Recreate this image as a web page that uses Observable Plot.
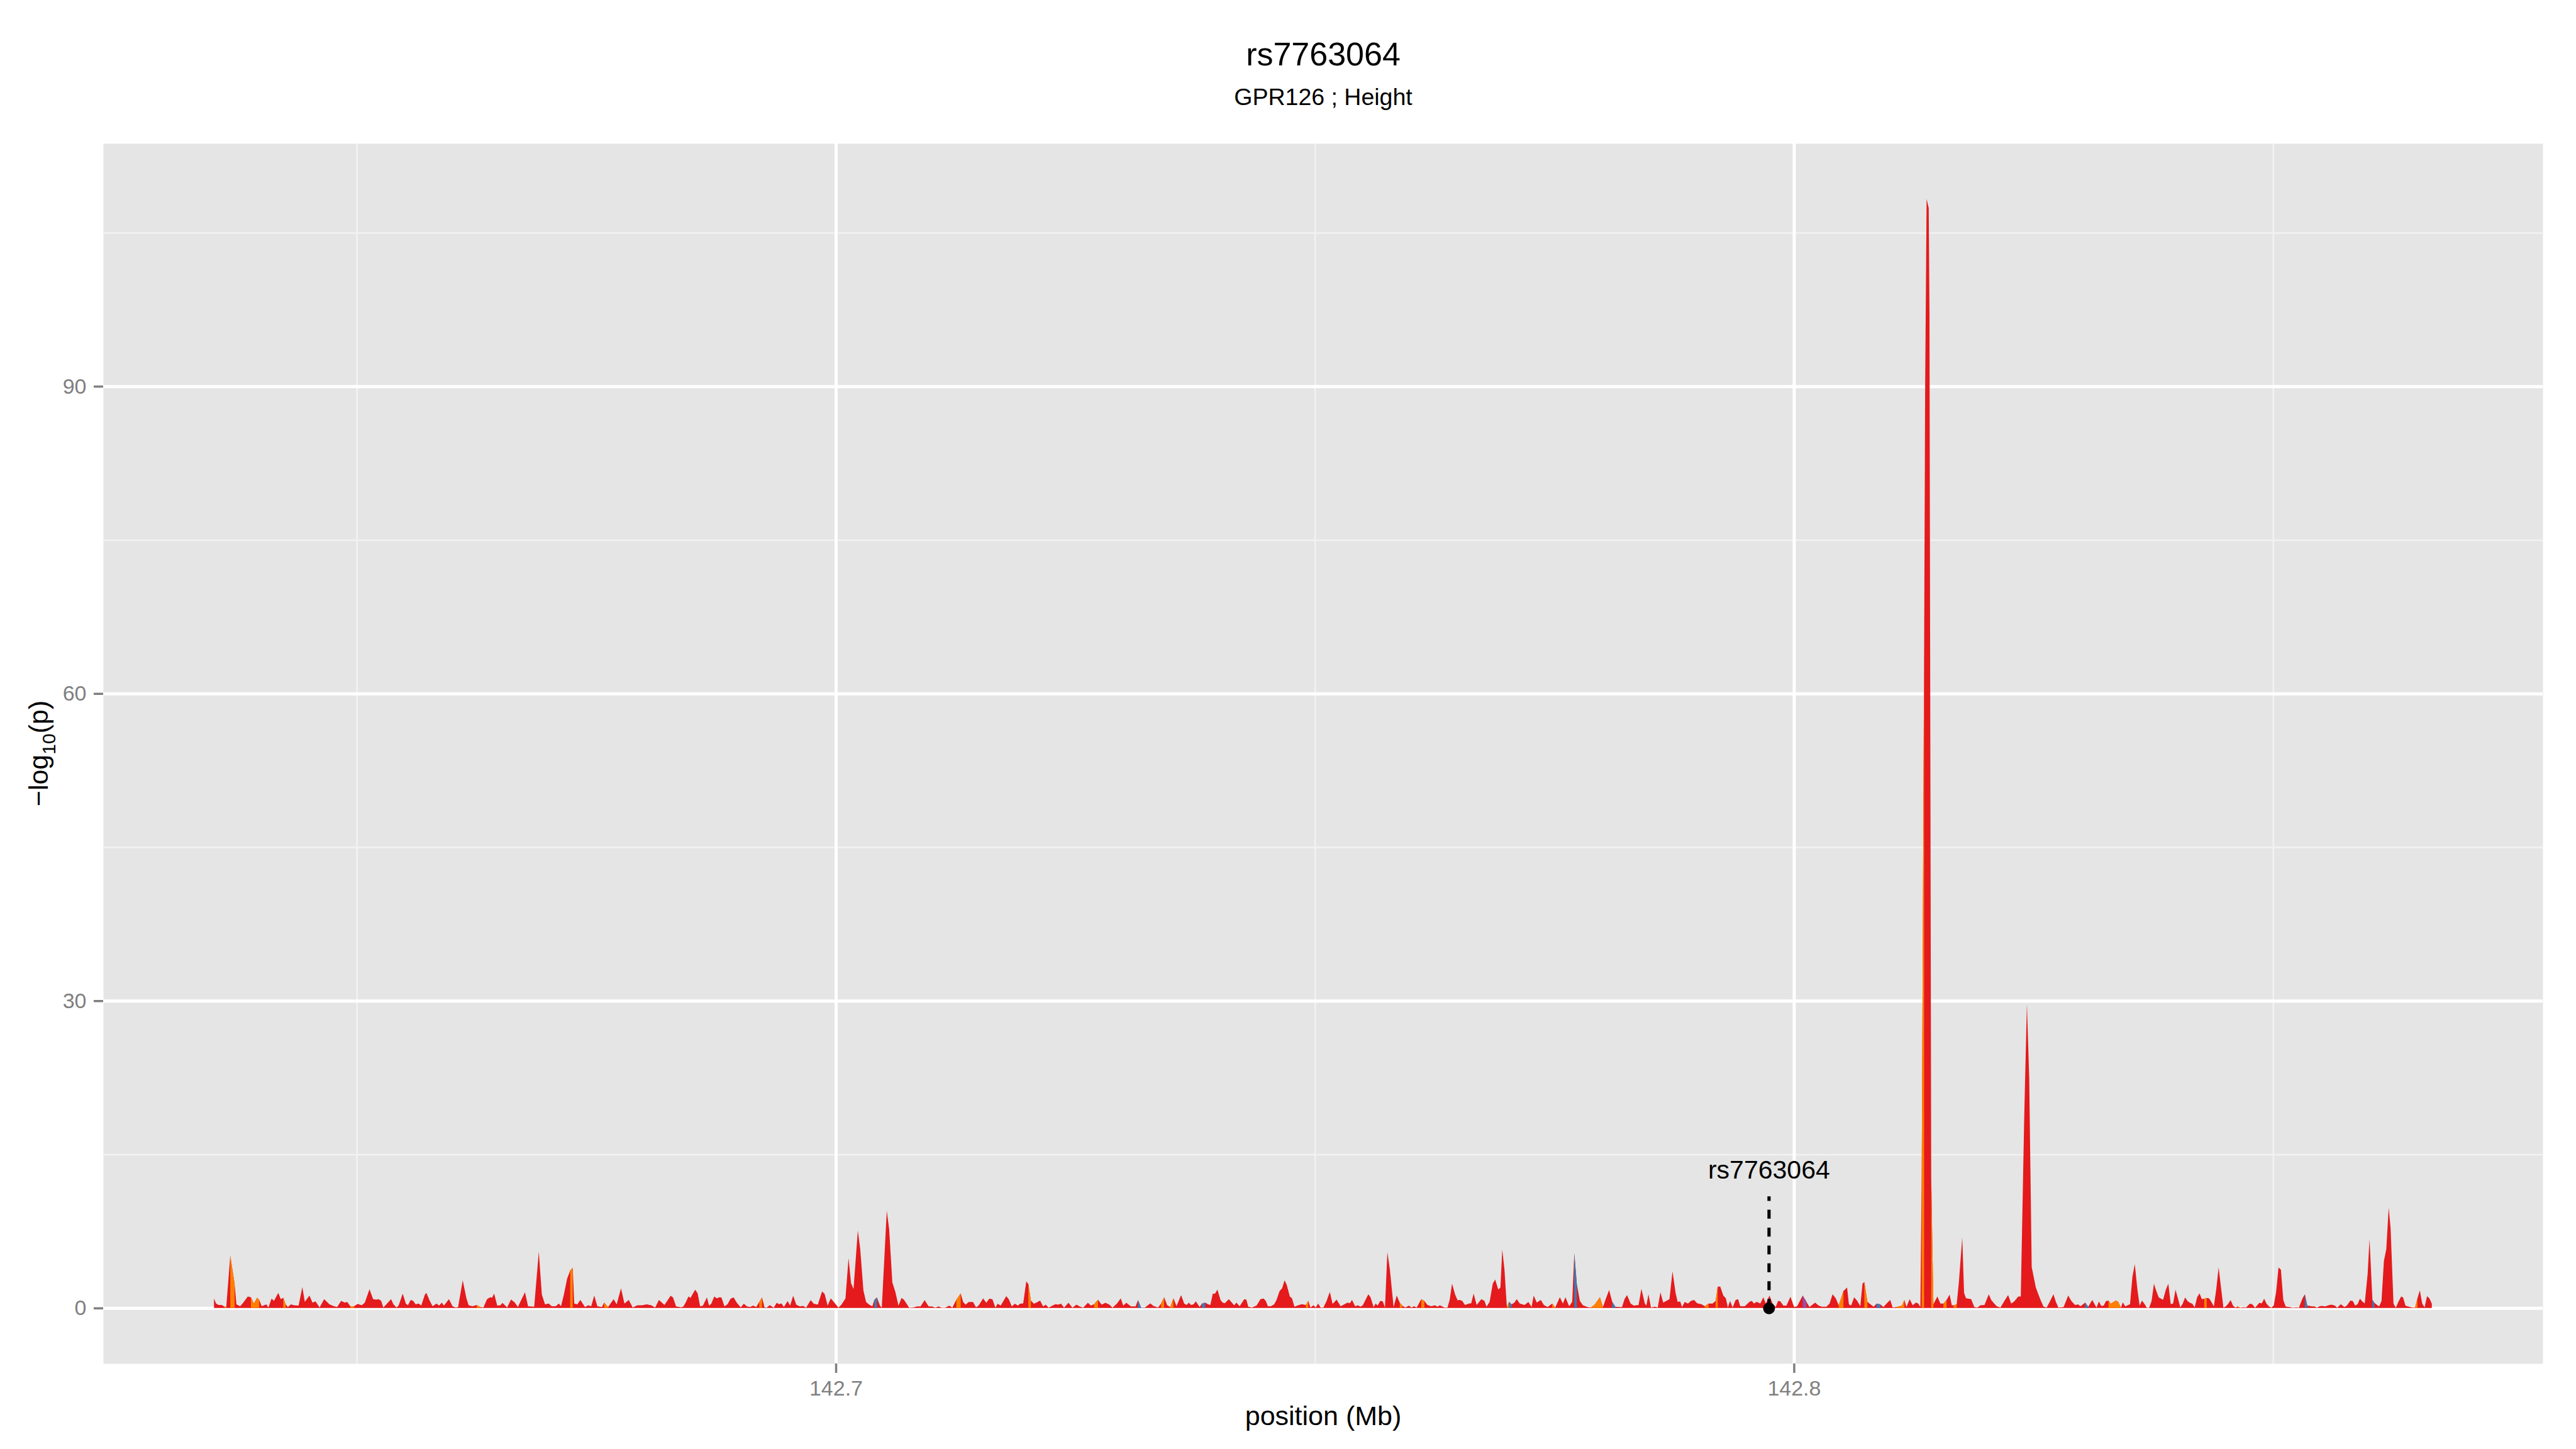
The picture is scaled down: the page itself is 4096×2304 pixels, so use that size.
<!DOCTYPE html>
<html><head><meta charset="utf-8">
<script src="https://cdn.jsdelivr.net/npm/d3@7"></script>
<script src="https://cdn.jsdelivr.net/npm/@observablehq/plot@0.6"></script>
<style>html,body{margin:0;padding:0;background:#fff}svg{display:block}</style>
</head><body><div id="chart"></div>
<script>
// SNP position (Mb) and -log10(p)
const snps = [
[142.63510,0.92],[142.63532,0.44],[142.63558,0.30],[142.63590,0.30],[142.63616,0.16],[142.63638,0.10],[142.63680,5.10],[142.63725,2.36],[142.63744,0.35],[142.63783,0.17],
[142.63808,0.44],[142.63863,1.13],[142.63895,1.05],[142.63927,0.44],[142.63960,1.00],[142.63982,0.79],[142.64008,0.17],[142.64056,0.35],[142.64078,0.05],[142.64111,0.92],
[142.64136,0.70],[142.64181,1.48],[142.64207,0.87],[142.64233,1.00],[142.64258,0.35],[142.64281,0.10],[142.64313,0.35],[142.64345,0.26],[142.64393,0.23],[142.64432,2.04],
[142.64458,0.61],[142.64506,1.22],[142.64538,0.52],[142.64570,0.65],[142.64612,0.05],[142.64660,0.87],[142.64715,0.35],[142.64763,0.17],[142.64795,0.10],[142.64837,0.70],
[142.64875,0.52],[142.64901,0.58],[142.64933,0.17],[142.64972,0.17],[142.65010,0.40],[142.65052,0.26],[142.65084,0.52],[142.65133,1.83],[142.65171,0.87],[142.65203,0.82],
[142.65229,0.87],[142.65255,0.70],[142.65277,0.05],[142.65309,0.35],[142.65358,0.87],[142.65383,0.35],[142.65415,0.05],[142.65438,0.26],[142.65480,1.40],[142.65512,0.44],
[142.65534,0.26],[142.65563,0.79],[142.65589,0.70],[142.65615,0.35],[142.65647,0.44],[142.65673,0.23],[142.65711,1.31],[142.65727,1.48],[142.65759,0.75],[142.65791,0.17],
[142.65833,0.44],[142.65859,0.23],[142.65888,0.52],[142.65910,0.23],[142.65962,0.87],[142.66000,0.17],[142.66033,0.05],[142.66058,0.10],[142.66106,2.70],[142.66145,0.92],
[142.66168,0.26],[142.66209,0.17],[142.66251,0.30],[142.66290,0.10],[142.66322,0.05],[142.66360,0.87],[142.66392,1.05],[142.66412,1.00],[142.66434,1.40],[142.66466,0.23],
[142.66499,0.26],[142.66521,0.49],[142.66547,0.26],[142.66569,0.05],[142.66611,0.84],[142.66650,0.52],[142.66682,0.10],[142.66707,0.61],[142.66756,1.54],[142.66788,0.17],
[142.66852,0.12],[142.66900,5.50],[142.66932,1.31],[142.66965,0.35],[142.67003,0.44],[142.67035,0.17],[142.67077,0.17],[142.67109,0.44],[142.67132,0.17],[142.67164,1.40],
[142.67196,2.88],[142.67228,3.66],[142.67254,3.93],[142.67270,0.44],[142.67302,0.35],[142.67334,0.79],[142.67382,0.10],[142.67415,0.26],[142.67447,0.17],[142.67479,1.22],
[142.67511,0.17],[142.67559,0.10],[142.67582,0.52],[142.67623,0.10],[142.67681,0.87],[142.67713,0.35],[142.67758,1.92],[142.67794,0.44],[142.67839,0.79],[142.67880,0.05],
[142.67929,0.26],[142.67977,0.26],[142.68025,0.35],[142.68073,0.26],[142.68115,0.05],[142.68154,0.79],[142.68212,0.30],
[142.68276,1.20],[142.68301,1.03],[142.68333,0.16],[142.68388,0.07],[142.68410,0.16],[142.68436,0.59],[142.68462,1.12],[142.68484,0.98],[142.68507,1.38],[142.68533,1.78],
[142.68558,1.43],[142.68584,0.16],[142.68613,0.24],[142.68655,1.03],[142.68677,0.24],[142.68700,0.42],[142.68732,1.12],[142.68758,0.94],[142.68783,1.05],[142.68806,1.03],
[142.68838,0.16],[142.68870,0.38],[142.68902,0.91],[142.68934,1.03],[142.68967,0.51],[142.69008,0.07],[142.69040,0.42],[142.69073,0.16],[142.69105,0.10],[142.69137,0.24],
[142.69169,0.10],[142.69201,0.59],[142.69230,1.03],[142.69256,0.07],[142.69278,0.03],[142.69310,0.28],[142.69352,0.03],[142.69384,0.51],[142.69407,0.38],[142.69433,0.45],
[142.69458,0.10],[142.69497,0.68],[142.69523,0.24],[142.69555,1.20],[142.69587,0.33],[142.69625,0.16],[142.69658,0.21],[142.69690,0.03],[142.69738,0.77],[142.69770,0.42],
[142.69812,0.33],[142.69857,1.61],[142.69883,1.38],[142.69915,0.24],[142.69947,0.94],[142.69995,0.42],[142.70027,0.03],[142.70059,0.33],[142.70101,0.94],[142.70133,4.87],
[142.70159,2.43],[142.70185,1.85],[142.70230,7.57],[142.70255,5.74],[142.70288,1.73],[142.70316,0.59],[142.70349,0.33],[142.70381,0.16],[142.70403,0.80],[142.70429,1.03],
[142.70461,0.24],[142.70480,0.03],[142.70532,9.49],[142.70557,7.66],[142.70590,2.51],[142.70622,1.55],[142.70654,0.24],[142.70686,0.98],[142.70712,0.80],[142.70766,0.03],
[142.70815,0.07],[142.70847,0.16],[142.70885,0.16],[142.70927,0.77],[142.70969,0.16],[142.71001,0.16],[142.71040,0.03],[142.71072,0.16],[142.71104,0.03],[142.71142,0.03],
[142.71184,0.24],[142.71216,0.03],[142.71258,0.80],[142.71303,1.43],[142.71329,0.59],[142.71355,0.33],[142.71387,0.59],[142.71432,0.59],[142.71464,0.07],[142.71490,0.24],
[142.71538,0.94],[142.71570,0.51],[142.71602,0.91],[142.71634,0.86],[142.71666,0.03],[142.71689,0.42],[142.71721,0.24],[142.71779,1.15],[142.71805,0.86],[142.71837,0.16],
[142.71869,0.42],[142.71901,0.24],[142.71923,0.42],[142.71956,0.45],[142.71988,2.60],[142.72010,2.34],[142.72036,0.73],[142.72068,0.42],[142.72100,0.56],[142.72132,0.73],
[142.72164,0.16],[142.72190,0.33],[142.72222,0.03],[142.72261,0.24],[142.72293,0.38],[142.72319,0.33],[142.72351,0.42],[142.72383,0.03],[142.72428,0.51],[142.72470,0.03],
[142.72512,0.33],[142.72544,0.16],[142.72582,0.03],[142.72631,0.51],[142.72663,0.24],[142.72695,0.38],[142.72737,0.80],[142.72775,0.33],[142.72814,0.51],[142.72856,0.33],
[142.72888,0.03],[142.72936,0.45],[142.72974,0.94],[142.73000,0.24],[142.73032,0.51],[142.73081,0.16],[142.73129,0.16],[142.73154,0.77],[142.73187,0.03],[142.73225,0.03],
[142.73283,0.45],
[142.73315,0.20],[142.73363,0.05],[142.73395,0.44],[142.73427,1.05],[142.73459,0.26],[142.73491,0.09],[142.73524,0.96],[142.73556,0.17],[142.73604,1.27],[142.73636,0.44],
[142.73662,0.30],[142.73684,0.52],[142.73707,0.30],[142.73733,0.35],[142.73758,0.65],[142.73797,0.09],[142.73822,0.44],[142.73855,0.52],[142.73887,0.35],[142.73909,0.30],
[142.73935,1.40],[142.73958,1.40],[142.73983,1.80],[142.74015,0.79],[142.74038,0.52],[142.74060,0.47],[142.74102,0.87],[142.74134,0.52],[142.74157,0.26],[142.74182,0.52],
[142.74215,0.17],[142.74263,0.87],[142.74285,0.82],[142.74305,0.12],[142.74343,0.05],[142.74391,0.23],[142.74433,0.87],[142.74465,0.92],[142.74488,0.70],[142.74510,0.17],
[142.74542,0.17],[142.74575,0.35],[142.74600,0.79],[142.74632,1.66],[142.74658,1.92],[142.74684,2.70],[142.74706,2.27],[142.74739,1.13],[142.74761,0.96],[142.74787,0.12],
[142.74825,0.26],[142.74864,0.38],[142.74906,0.30],[142.74931,0.70],[142.74954,0.05],[142.74986,0.26],[142.75009,0.05],[142.75034,0.44],[142.75060,0.05],[142.75089,0.05],
[142.75121,0.65],[142.75156,1.57],[142.75185,0.40],[142.75227,0.82],[142.75269,0.17],[142.75307,0.35],[142.75340,0.52],[142.75365,0.47],[142.75388,0.79],[142.75420,0.17],
[142.75452,0.26],[142.75475,0.12],[142.75500,0.26],[142.75558,1.34],[142.75581,1.05],[142.75613,0.09],[142.75635,0.44],[142.75655,0.23],[142.75683,0.70],[142.75709,0.65],
[142.75732,0.05],[142.75757,5.46],[142.75783,3.75],[142.75822,0.09],[142.75854,1.22],[142.75886,0.52],[142.75912,0.23],[142.75944,0.05],[142.75982,0.23],[142.76008,0.05],
[142.76034,0.17],[142.76063,0.05],[142.76111,0.87],[142.76143,0.70],[142.76175,0.30],[142.76214,0.17],[142.76256,0.26],[142.76278,0.12],[142.76304,0.26],[142.76352,0.05],
[142.76384,0.05],[142.76407,0.79],[142.76432,2.39],[142.76464,1.31],[142.76490,0.75],[142.76513,0.79],[142.76538,0.70],[142.76567,0.30],[142.76609,0.44],[142.76632,0.47],
[142.76657,1.40],[142.76689,0.30],[142.76738,0.87],[142.76770,0.70],[142.76792,0.12],[142.76824,0.61],[142.76857,2.39],[142.76882,2.79],[142.76914,1.80],[142.76937,2.00],
[142.76956,5.72],[142.76979,3.75],[142.77004,0.09],[142.77027,0.61],[142.77053,0.35],[142.77082,0.52],[142.77107,0.87],[142.77139,0.44],[142.77188,0.30],[142.77229,0.58],
[142.77262,0.09],[142.77284,1.22],[142.77316,0.52],[142.77358,0.79],[142.77390,0.30],[142.77429,0.09],[142.77477,0.44],[142.77509,0.05],[142.77557,1.05],[142.77589,0.44],
[142.77615,1.05],[142.77654,0.17],[142.77686,0.61],[142.77708,5.34],[142.77734,2.36],[142.77766,0.70],[142.77798,0.26],[142.77846,0.09],[142.77879,0.05],[142.77917,0.30],
[142.77975,1.05],[142.78007,0.09],[142.78039,0.96],[142.78071,1.75],[142.78104,0.61],[142.78136,0.12],[142.78184,0.09],[142.78206,0.09],[142.78232,0.87],[142.78258,1.27],
[142.78296,0.44],[142.78329,0.23],
[142.78379,0.30],[142.78408,1.87],[142.78444,0.44],[142.78460,0.23],[142.78482,1.34],[142.78508,0.05],[142.78550,0.12],[142.78579,0.05],[142.78607,1.52],[142.78636,0.52],
[142.78701,0.87],[142.78733,3.58],[142.78765,1.48],[142.78787,0.58],[142.78813,0.65],[142.78832,0.09],[142.78861,0.58],[142.78894,0.44],[142.78926,0.70],[142.78958,0.79],
[142.78990,0.47],[142.79038,0.35],[142.79070,0.17],[142.79109,0.44],[142.79151,0.44],[142.79183,0.70],[142.79205,2.09],[142.79231,2.09],[142.79263,1.22],[142.79289,0.96],
[142.79311,0.05],[142.79334,0.70],[142.79360,0.05],[142.79392,0.79],[142.79417,0.87],[142.79440,0.17],[142.79488,0.17],[142.79536,0.61],[142.79559,0.70],[142.79585,0.44],
[142.79610,0.61],[142.79649,0.44],[142.79681,1.05],[142.79707,0.44],[142.79745,1.22],[142.79777,0.44],[142.79810,0.09],[142.79835,0.70],[142.79858,0.65],[142.79890,0.23],
[142.79922,0.23],[142.79964,1.10],[142.80002,0.09],[142.80034,0.17],[142.80092,1.22],[142.80131,0.61],[142.80163,0.09],[142.80221,0.52],[142.80259,0.23],[142.80292,0.12],
[142.80340,0.12],[142.80372,0.44],[142.80404,1.34],[142.80436,0.96],[142.80468,0.26],[142.80517,1.66],[142.80555,2.00],[142.80574,0.35],[142.80597,0.23],[142.80629,1.05],
[142.80661,0.70],[142.80693,0.17],[142.80716,2.39],[142.80735,2.53],[142.80767,0.61],[142.80799,0.35],[142.80832,0.12],[142.80864,0.44],[142.80902,0.35],[142.80934,0.09],
[142.80967,0.44],[142.81005,0.79],[142.81031,0.05],[142.81069,0.09],[142.81102,0.17],[142.81127,0.23],[142.81153,0.79],[142.81175,0.09],[142.81208,0.87],[142.81240,0.26],
[142.81272,0.52],[142.81298,0.44],[142.81320,0.09],[142.81334,13.0],[142.81359,64.0],[142.81370,90.0],[142.81385,108.3],[142.81407,107.4],[142.81415,97.0],[142.81433,12.8],
[142.81456,0.35],[142.81497,1.13],[142.81529,0.44],[142.81561,0.44],[142.81593,0.79],[142.81625,1.31],[142.81648,0.26],[142.81667,0.26],[142.81699,0.35],[142.81722,2.53],
[142.81757,6.89],[142.81776,1.48],[142.81796,0.96],[142.81850,0.87],[142.81883,0.09],[142.81915,0.05],[142.81947,0.26],[142.81989,0.30],[142.82034,1.34],[142.82059,0.79],
[142.82091,0.44],[142.82117,0.17],[142.82156,0.05],[142.82197,0.70],[142.82236,1.26],[142.82268,0.44],[142.82300,0.65],[142.82342,1.13],[142.82368,1.13],[142.82404,18.7],
[142.82432,29.7],[142.82456,22.4],[142.82482,4.0],[142.82525,2.0],[142.82574,0.79],[142.82606,0.12],[142.82638,0.05],[142.82670,0.61],[142.82709,1.34],[142.82734,0.61],
[142.82760,0.05],[142.82815,0.09],[142.82863,1.22],[142.82895,0.70],[142.82934,0.30],[142.82966,0.35],[142.82991,0.17],[142.83040,0.52],[142.83072,0.12],[142.83114,0.79],
[142.83158,0.03],[142.83183,0.63],[142.83208,0.21],[142.83233,0.24],[142.83258,0.68],[142.83283,0.73],[142.83308,0.42],[142.83358,0.73],[142.83383,0.63],[142.83413,0.03],
[142.83433,0.56],[142.83458,0.16],[142.83508,0.38],[142.83533,3.04],[142.83558,4.29],[142.83583,1.99],[142.83608,0.24],[142.83633,0.73],[142.83658,0.42],[142.83683,0.03],
[142.83708,0.03],[142.83733,0.68],[142.83758,2.37],[142.83783,1.64],[142.83808,1.03],[142.83853,0.80],[142.83883,1.82],[142.83908,2.37],[142.83933,0.38],[142.83958,0.45],
[142.83983,1.78],[142.84008,0.94],[142.84033,0.07],[142.84058,0.42],[142.84083,1.03],[142.84108,0.68],[142.84133,0.51],[142.84158,0.42],[142.84183,0.07],[142.84208,1.03],
[142.84233,1.43],[142.84258,0.86],[142.84283,0.91],[142.84308,0.98],[142.84333,0.94],[142.84358,0.59],[142.84383,0.16],[142.84408,1.82],[142.84433,3.96],[142.84458,1.99],
[142.84483,0.03],[142.84508,0.16],[142.84533,0.42],[142.84558,0.77],[142.84583,0.24],[142.84608,0.03],[142.84633,0.16],[142.84658,0.03],[142.84683,0.07],[142.84721,0.07],
[142.84758,0.42],[142.84783,0.38],[142.84813,0.03],[142.84833,0.24],[142.84858,0.51],[142.84883,0.45],[142.84908,0.91],[142.84933,0.42],[142.84958,0.16],[142.84983,0.03],
[142.85008,0.24],[142.85033,1.55],[142.85058,3.96],[142.85083,3.73],[142.85108,0.77],[142.85133,0.14],[142.85171,0.10],[142.85208,0.03],[142.85246,0.07],[142.85271,0.03],
[142.85308,0.94],[142.85333,1.34],[142.85358,0.24],[142.85383,0.21],[142.85408,0.16],[142.85433,0.16],[142.85458,0.03],[142.85483,0.16],[142.85508,0.21],[142.85546,0.16],
[142.85583,0.28],[142.85613,0.33],[142.85646,0.24],[142.85671,0.03],[142.85708,0.38],[142.85746,0.10],[142.85771,0.24],[142.85808,0.73],[142.85833,0.68],[142.85858,0.24],
[142.85883,0.38],[142.85908,0.91],[142.85933,0.63],[142.85958,0.45],[142.85988,3.30],[142.86008,6.74],[142.86038,0.80],[142.86058,0.51],[142.86083,0.33],[142.86108,0.16],
[142.86133,0.68],[142.86158,4.60],[142.86183,5.74],[142.86208,9.81],[142.86228,7.75],[142.86258,0.42],[142.86283,0.03],[142.86308,0.59],[142.86338,1.12],[142.86358,1.03],
[142.86383,0.24],[142.86408,0.16],[142.86446,0.07],[142.86483,0.03],[142.86508,0.94],[142.86533,1.73],[142.86558,0.42],[142.86583,0.07],[142.86608,1.15],[142.86633,0.94],
[142.86658,0.42]
];

// intervals (Mb) drawn in the other LD colours
const orangeBands = [
[142.63616,142.63638],[142.63680,142.63725],[142.63895,142.63982],[142.64233,142.64258],[142.64933,142.64972],[142.66251,142.66290],[142.67228,142.67254],[142.67582,142.67623],
[142.69201,142.69230],[142.71258,142.71303],[142.72010,142.72036],[142.72695,142.72737],
[142.73395,142.73427],[142.73491,142.73524],[142.74906,142.74931],[142.75886,142.75912],[142.76111,142.76143],[142.77004,142.77027],[142.77477,142.77509],[142.77879,142.78007],
[142.79070,142.79109],[142.79183,142.79205],[142.80468,142.80517],[142.80735,142.80767],[142.81069,142.81153],[142.81334,142.81359],[142.81433,142.81456],[142.81561,142.81593],[142.81667,142.81699],
[142.83283,142.83413],[142.84283,142.84308],[142.84633,142.84658],[142.86483,142.86508]
];
const blueBands = [
[142.69256,142.69278],[142.70403,142.70429],[142.73154,142.73225],[142.73822,142.73855],[142.77027,142.77053],[142.77708,142.77734],[142.78104,142.78136],[142.80864,142.80902],[142.83040,142.83072],[142.85333,142.85358],[142.86038,142.86058]
];
const purpleBands = [[142.80092,142.80131]];

const xMajor = [142.7, 142.8];
const xMinor = [142.65, 142.75, 142.85];
const yMajor = [0, 30, 60, 90];
const yMinor = [15, 45, 75, 105];
const lead = [{name: "rs7763064", pos: 142.79737, lineTop: 10.9, labelY: 12.7}];
const titleText = "rs7763064";
const subtitleText = "GPR126 ; Height";
const xTitle = "position (Mb)";

const points = snps.map(([pos, logp]) => ({pos, logp}));
function bandPoints(bands, key) {
  return bands.flatMap(([a, b], i) =>
    points.filter(d => d.pos >= a - 1e-7 && d.pos <= b + 1e-7).map(d => ({...d, band: key + i})));
}

const chart = Plot.plot({
  width: 4096, height: 2304,
  marginLeft: 164, marginRight: 53, marginTop: 228, marginBottom: 136,
  style: {fontFamily: "'Liberation Sans', Arial, Helvetica, sans-serif", fontSize: "34px", background: "#ffffff", color: "#7f7f7f"},
  x: {domain: [142.62353, 142.87815], axis: null},
  y: {domain: [-5.415, 113.715], axis: null},
  marks: [
    Plot.frame({fill: "#E5E5E5", stroke: null}),
    Plot.ruleX(xMinor, {stroke: "#F2F2F2", strokeWidth: 2.5}),
    Plot.ruleY(yMinor, {stroke: "#F2F2F2", strokeWidth: 2.5}),
    Plot.ruleX(xMajor, {stroke: "#ffffff", strokeWidth: 5}),
    Plot.ruleY(yMajor, {stroke: "#ffffff", strokeWidth: 5}),
    Plot.areaY(points, {x: "pos", y1: 0, y2: "logp", fill: "#E41A1C"}),
    Plot.areaY(bandPoints(orangeBands, "o"), {x: "pos", y1: 0, y2: "logp", z: "band", fill: "#FF7F00"}),
    Plot.areaY(bandPoints(blueBands, "b"), {x: "pos", y1: 0, y2: "logp", z: "band", fill: "#377EB8"}),
    Plot.areaY(bandPoints(purpleBands, "p"), {x: "pos", y1: 0, y2: "logp", z: "band", fill: "#984EA3"}),
    Plot.ruleX(lead, {x: "pos", y1: 0, y2: "lineTop", stroke: "#000", strokeWidth: 5.1, strokeDasharray: "14.2,14.2"}),
    Plot.dot(lead, {x: "pos", y: 0, r: 9.4, fill: "#000"}),
    Plot.text(lead, {x: "pos", y: "labelY", text: "name", lineAnchor: "bottom", fontSize: 41, fill: "#000"}),
    Plot.axisX(xMajor, {tickSize: 15, tickPadding: 11, strokeWidth: 3.5, stroke: "#7f7f7f", fill: "#7f7f7f", fontSize: 34, tickFormat: d => d.toFixed(1), label: null}),
    Plot.axisY(yMajor, {tickSize: 15, tickPadding: 12, strokeWidth: 3.5, stroke: "#7f7f7f", fill: "#7f7f7f", fontSize: 34, label: null}),
    Plot.text([titleText], {frameAnchor: "top", dy: -125, lineAnchor: "bottom", fontSize: 52, fill: "#000"}),
    Plot.text([subtitleText], {frameAnchor: "top", dy: -62, lineAnchor: "bottom", fontSize: 37.5, fill: "#000"}),
    Plot.text([xTitle], {frameAnchor: "bottom", dy: 97, lineAnchor: "bottom", fontSize: 43, fill: "#000"})
  ]
});

// y-axis title with subscript
const svg = d3.select(chart);
const yt = svg.append("text")
  .attr("transform", "translate(76,1198) rotate(-90)")
  .attr("text-anchor", "middle")
  .attr("font-size", 43)
  .attr("fill", "#000");
yt.append("tspan").text("\u2212log");
yt.append("tspan").attr("font-size", 30).attr("dy", 12).text("10");
yt.append("tspan").attr("dy", -12).text("(p)");

document.getElementById("chart").appendChild(chart);
</script>
</body></html>
